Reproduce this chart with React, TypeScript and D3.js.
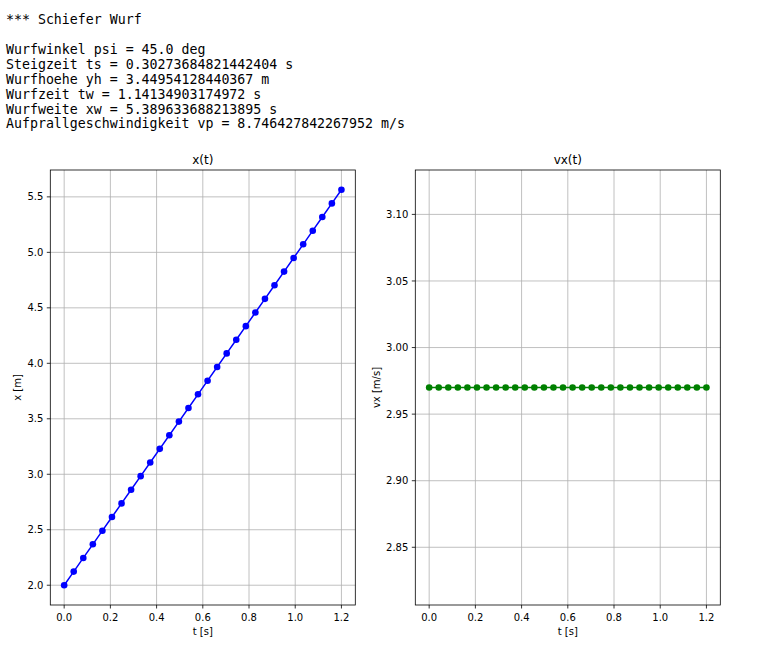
import React from "react";
import * as d3 from "d3";

const headerLines: string[] = [
  "*** Schiefer Wurf",
  "",
  "Wurfwinkel psi = 45.0 deg",
  "Steigzeit ts = 0.30273684821442404 s",
  "Wurfhoehe yh = 3.44954128440367 m",
  "Wurfzeit tw = 1.14134903174972 s",
  "Wurfweite xw = 5.389633688213895 s",
  "Aufprallgeschwindigkeit vp = 8.746427842267952 m/s",
];

const tValues: number[] = [
  0, 0.0414, 0.0828, 0.1241, 0.1655, 0.2069, 0.2483, 0.2897, 0.331, 0.3724,
  0.4138, 0.4552, 0.4966, 0.5379, 0.5793, 0.6207, 0.6621, 0.7034, 0.7448, 0.7862,
  0.8276, 0.869, 0.9103, 0.9517, 0.9931, 1.0345, 1.0759, 1.1172, 1.1586, 1.2,
];

const xValues: number[] = [
  2.0, 2.1229, 2.2459, 2.3687, 2.4916, 2.6145, 2.7374, 2.8603, 2.9832, 3.1061,
  3.229, 3.3519, 3.4748, 3.5977, 3.7206, 3.8434, 3.9663, 4.0892, 4.2121, 4.335,
  4.4579, 4.5808, 4.7037, 4.8266, 4.9495, 5.0724, 5.1953, 5.3182, 5.4411, 5.564,
];

const vxValues: number[] = [
  2.97, 2.97, 2.97, 2.97, 2.97, 2.97, 2.97, 2.97, 2.97, 2.97,
  2.97, 2.97, 2.97, 2.97, 2.97, 2.97, 2.97, 2.97, 2.97, 2.97,
  2.97, 2.97, 2.97, 2.97, 2.97, 2.97, 2.97, 2.97, 2.97, 2.97,
];

const tTicks: number[] = [0, 0.2, 0.4, 0.6, 0.8, 1.0, 1.2];
const xTicks: number[] = [2.0, 2.5, 3.0, 3.5, 4.0, 4.5, 5.0, 5.5];
const vxTicks: number[] = [2.85, 2.9, 2.95, 3.0, 3.05, 3.1];

const FONT = "DejaVu Sans, sans-serif";
const MONO = "DejaVu Sans Mono, monospace";

type PanelProps = {
  left: number;
  top: number;
  width: number;
  height: number;
  title: string;
  ylabel: string;
  ys: number[];
  yDomain: [number, number];
  yTicks: number[];
  yFmt: (v: number) => string;
  color: string;
  ylabelX: number;
};

function Panel(p: PanelProps) {
  const xs = d3.scaleLinear().domain([-0.06, 1.26]).range([p.left, p.left + p.width]);
  const ysc = d3.scaleLinear().domain(p.yDomain).range([p.top + p.height, p.top]);
  const line = d3
    .line<number>()
    .x((_, i) => xs(tValues[i]))
    .y((d) => ysc(d));
  const bottom = p.top + p.height;
  const right = p.left + p.width;
  const cx = p.left + p.width / 2;
  const cy = p.top + p.height / 2;
  return (
    <g>
      {tTicks.map((t) => (
        <line key={"gx" + t} x1={xs(t)} x2={xs(t)} y1={p.top} y2={bottom} stroke="#b0b0b0" strokeWidth={0.8} />
      ))}
      {p.yTicks.map((v) => (
        <line key={"gy" + v} x1={p.left} x2={right} y1={ysc(v)} y2={ysc(v)} stroke="#b0b0b0" strokeWidth={0.8} />
      ))}
      <path d={line(p.ys) || ""} fill="none" stroke={p.color} strokeWidth={1.5} />
      {p.ys.map((v, i) => (
        <circle key={"c" + i} cx={xs(tValues[i])} cy={ysc(v)} r={3.3} fill={p.color} />
      ))}
      <rect x={p.left} y={p.top} width={p.width} height={p.height} fill="none" stroke="#000" strokeWidth={0.8} />
      {tTicks.map((t) => (
        <g key={"tx" + t}>
          <line x1={xs(t)} x2={xs(t)} y1={bottom} y2={bottom + 3.5} stroke="#000" strokeWidth={0.8} />
          <text x={xs(t)} y={bottom + 16} textAnchor="middle" fontSize={10} fontFamily={FONT} fill="#000">
            {t.toFixed(1)}
          </text>
        </g>
      ))}
      {p.yTicks.map((v) => (
        <g key={"ty" + v}>
          <line x1={p.left - 3.5} x2={p.left} y1={ysc(v)} y2={ysc(v)} stroke="#000" strokeWidth={0.8} />
          <text x={p.left - 7} y={ysc(v) + 3.6} textAnchor="end" fontSize={10} fontFamily={FONT} fill="#000">
            {p.yFmt(v)}
          </text>
        </g>
      ))}
      <text x={cx} y={p.top - 6} textAnchor="middle" fontSize={12} fontFamily={FONT} fill="#000">
        {p.title}
      </text>
      <text x={cx} y={bottom + 29.5} textAnchor="middle" fontSize={10} fontFamily={FONT} fill="#000">
        t [s]
      </text>
      <text
        transform={`translate(${p.ylabelX},${cy}) rotate(-90)`}
        textAnchor="middle"
        fontSize={10}
        fontFamily={FONT}
        fill="#000"
      >
        {p.ylabel}
      </text>
    </g>
  );
}

export default function App() {
  return (
    <svg
      width={758}
      height={655}
      style={{ position: "absolute", left: 0, top: 0, background: "#fff" }}
    >
      <rect x={0} y={0} width={758} height={655} fill="#fff" />
      {headerLines.map((s, i) => (
        <text
          key={"h" + i}
          x={6}
          y={i === 0 ? 24 : 54.3 + (i - 2) * 14.8}
          fontSize={13.25}
          fontFamily={MONO}
          fill="#000"
          style={{ whiteSpace: "pre" }}
        >
          {s}
        </text>
      ))}
      <Panel
        left={50.3}
        top={170}
        width={305}
        height={435}
        title="x(t)"
        ylabel="x [m]"
        ys={xValues}
        yDomain={[1.8218, 5.7422]}
        yTicks={xTicks}
        yFmt={(v) => v.toFixed(1)}
        color="#0000ff"
        ylabelX={21}
      />
      <Panel
        left={415.3}
        top={170}
        width={305}
        height={435}
        title="vx(t)"
        ylabel="vx [m/s]"
        ys={vxValues}
        yDomain={[2.80665, 3.13335]}
        yTicks={vxTicks}
        yFmt={(v) => v.toFixed(2)}
        color="#008000"
        ylabelX={380}
      />
    </svg>
  );
}
